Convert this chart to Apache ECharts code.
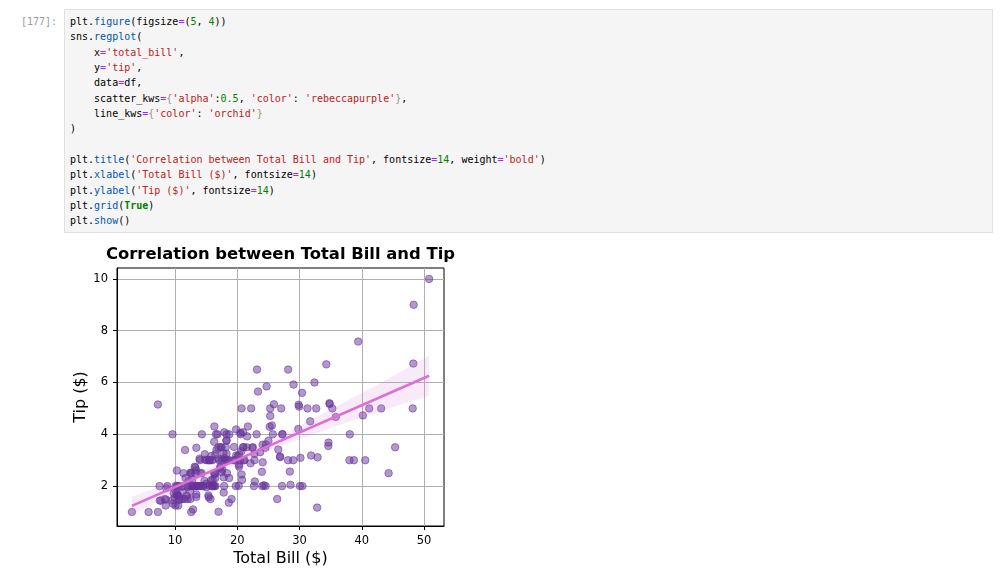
<!DOCTYPE html>
<html>
<head>
<meta charset="utf-8">
<script src="https://cdn.jsdelivr.net/npm/echarts@6/dist/echarts.min.js"></script>
<style>
  html, body { margin:0; padding:0; width:1000px; height:573px; background:#fff; overflow:hidden; }
  #prompt { position:absolute; left:20px; top:14px; width:37px; text-align:right; font:10px/15.33px 'DejaVu Sans Mono', monospace; color:#999; white-space:pre; }
  #cell { position:absolute; left:64px; top:9px; width:929px; height:224px; background:#f5f5f5; border:1px solid #e0e0e0; box-sizing:border-box; }
  #cell pre { position:absolute; left:5px; top:4px; margin:0; font:10px/15.33px 'DejaVu Sans Mono', monospace; color:#000; }
  .p { color:#0055aa; } .o { color:#aa22ff; } .n { color:#008000; } .s { color:#ba2121; } .k { color:#008000; font-weight:bold; } .b { color:#999977; }
  #chart { position:absolute; left:0; top:236px; width:520px; height:337px; }
</style>
</head>
<body>
<div id="prompt">[177]:</div>
<div id="cell"><pre>plt.<span class="p">figure</span>(figsize<span class="o">=</span>(<span class="n">5</span>, <span class="n">4</span>))
sns.<span class="p">regplot</span>(
    x<span class="o">=</span><span class="s">'total_bill'</span>,
    y<span class="o">=</span><span class="s">'tip'</span>,
    data<span class="o">=</span>df,
    scatter_kws<span class="o">=</span><span class="b">{</span><span class="s">'alpha'</span>:<span class="n">0.5</span>, <span class="s">'color'</span>: <span class="s">'rebeccapurple'</span><span class="b">}</span>,
    line_kws<span class="o">=</span><span class="b">{</span><span class="s">'color'</span>: <span class="s">'orchid'</span><span class="b">}</span>
)

plt.<span class="p">title</span>(<span class="s">'Correlation between Total Bill and Tip'</span>, fontsize<span class="o">=</span><span class="n">14</span>, weight<span class="o">=</span><span class="s">'bold'</span>)
plt.<span class="p">xlabel</span>(<span class="s">'Total Bill ($)'</span>, fontsize<span class="o">=</span><span class="n">14</span>)
plt.<span class="p">ylabel</span>(<span class="s">'Tip ($)'</span>, fontsize<span class="o">=</span><span class="n">14</span>)
plt.<span class="p">grid</span>(<span class="k">True</span>)
plt.<span class="p">show</span>()</pre></div>
<div id="chart"></div>
<script>
const totalBill = [16.99,10.34,21.01,23.68,24.59,25.29,8.77,26.88,15.04,14.78,10.27,35.26,15.42,18.43,14.83,21.58,10.33,16.29,16.97,20.65,17.92,20.29,15.77,39.42,19.82,17.81,13.37,12.69,21.70,19.65,9.55,18.35,15.06,20.69,17.78,24.06,16.31,16.93,18.69,31.27,16.04,17.46,13.94,9.68,30.40,18.29,22.23,32.40,28.55,18.04,12.54,10.29,34.81,9.94,25.56,19.49,38.01,26.41,11.24,48.27,20.29,13.81,11.02,18.29,17.59,20.08,16.45,3.07,20.23,15.01,12.02,17.07,26.86,25.28,14.73,10.51,17.92,27.20,22.76,17.29,19.44,16.66,10.07,32.68,15.98,34.83,13.03,18.28,24.71,21.16,28.97,22.49,5.75,16.32,22.75,40.17,27.28,12.03,21.01,12.46,11.35,15.38,44.30,22.42,20.92,15.36,20.49,25.21,18.24,14.31,14.00,7.25,38.07,23.95,25.71,17.31,29.93,10.65,12.43,24.08,11.69,13.42,14.26,15.95,12.48,29.80,8.52,14.52,11.38,22.82,19.08,20.27,11.17,12.26,18.26,8.51,10.33,14.15,16.00,13.16,17.47,34.30,41.19,27.05,16.43,8.35,18.64,11.87,9.78,7.51,14.07,13.13,17.26,24.55,19.77,29.85,48.17,25.00,13.39,16.49,21.50,12.66,16.21,13.81,17.51,24.52,20.76,31.71,10.59,10.63,50.81,15.81,7.25,31.85,16.82,32.90,17.89,14.48,9.60,34.63,34.65,23.33,45.35,23.17,40.55,20.69,20.90,30.46,18.15,23.10,15.69,19.81,28.44,15.48,16.58,7.56,10.34,43.11,13.00,13.51,18.71,12.74,13.00,16.40,20.53,16.47,26.59,38.73,24.27,12.76,30.06,25.89,48.33,13.27,28.17,12.90,28.15,11.59,7.74,30.14,12.16,13.42,8.58,15.98,13.42,16.27,10.09,20.45,13.28,22.12,24.01,15.69,11.61,10.77,15.53,10.07,12.60,32.83,35.83,29.03,27.18,22.67,17.82,18.78];
const tip = [1.01,1.66,3.50,3.31,3.61,4.71,2.00,3.12,1.96,3.23,1.71,5.00,1.57,3.00,3.02,3.92,1.67,3.71,3.50,3.35,4.08,2.75,2.23,7.58,3.18,2.34,2.00,2.00,4.30,3.00,1.45,2.50,3.00,2.45,3.27,3.60,2.00,3.07,2.31,5.00,2.24,2.54,3.06,1.32,5.60,3.00,5.00,6.00,2.05,3.00,2.50,2.60,5.20,1.56,4.34,3.51,3.00,1.50,1.76,6.73,3.21,2.00,1.98,3.76,2.64,3.15,2.47,1.00,2.01,2.09,1.97,3.00,3.14,5.00,2.20,1.25,3.08,4.00,3.00,2.71,3.00,3.40,1.83,5.00,2.03,5.17,2.00,4.00,5.85,3.00,3.00,3.50,1.00,4.30,3.25,4.73,4.00,1.50,3.00,1.50,2.50,3.00,2.50,3.48,4.08,1.64,4.06,4.29,3.76,4.00,3.00,1.00,4.00,2.55,4.00,3.50,5.07,1.50,1.80,2.92,2.31,1.68,2.50,2.00,2.52,4.20,1.48,2.00,2.00,2.18,1.50,2.83,1.50,2.00,3.25,1.25,2.00,2.00,2.00,2.75,3.50,6.70,5.00,5.00,2.30,1.50,1.36,1.63,1.73,2.00,2.50,2.00,2.74,2.00,2.00,5.14,5.00,3.75,2.61,2.00,3.50,2.50,2.00,2.00,3.00,3.48,2.24,4.50,1.61,2.00,10.00,3.16,5.15,3.18,4.00,3.11,2.00,2.00,4.00,3.55,3.68,5.65,3.50,6.50,3.00,5.00,3.50,2.00,3.50,4.00,1.50,4.19,2.56,2.02,4.00,1.44,2.00,5.00,2.00,2.00,4.00,2.01,2.00,2.50,4.00,3.23,3.41,3.00,2.03,2.23,2.00,5.16,9.00,2.50,6.50,1.10,3.00,1.50,1.44,3.09,2.20,3.48,1.92,3.00,1.58,2.50,2.00,3.00,2.72,2.88,2.00,3.00,3.39,1.47,3.00,1.25,1.00,1.17,4.67,5.92,2.00,2.00,1.75,3.00];

// regression line endpoints and confidence band
const fitX = [3.07, 50.81];
const fitY = [1.24, 6.26];
const bandX     = [3.07, 8, 13, 18, 23, 28, 33, 38, 43, 50.81];
const bandLower = [0.90, 1.49, 2.10, 2.67, 3.19, 3.64, 4.07, 4.48, 4.90, 5.49];
const bandUpper = [1.59, 2.03, 2.48, 2.95, 3.49, 4.08, 4.71, 5.34, 5.98, 7.03];

const xTicks = [10, 20, 30, 40, 50];
const yTicks = [2, 4, 6, 8, 10];

const n = Math.min(totalBill.length, tip.length);
const points = [];
for (let i = 0; i < n; i++) points.push([totalBill[i], tip[i]]);
const bandData = bandX.map((x, i) => [x, bandLower[i], bandUpper[i]]);

const FONT = 'DejaVu Sans';
const chart = echarts.init(document.getElementById('chart'), null, { renderer: 'canvas' });
chart.setOption({
  animation: false,
  backgroundColor: 'transparent',
  textStyle: { fontFamily: FONT },
  title: {
    text: 'Correlation between Total Bill and Tip',
    left: 280.5, top: 11, padding: 0, textAlign: 'center',
    textStyle: { fontFamily: FONT, fontSize: 16.4, fontWeight: 'bold', color: '#000' }
  },
  grid: { left: 117, top: 32, right: 76, bottom: 47, show: true, borderColor: '#000', borderWidth: 1, containLabel: false, outerBoundsMode: 'none' },
  xAxis: {
    type: 'value', min: 0.68, max: 53.2, minInterval: 10, maxInterval: 10,
    name: 'Total Bill ($)', nameLocation: 'middle', nameGap: 25, nameMoveOverlap: false,
    nameTextStyle: { fontFamily: FONT, fontSize: 16, color: '#000' },
    axisLine: { show: true, onZero: false, lineStyle: { color: '#000', width: 1 } },
    axisTick: { show: true, length: 4, inside: false, customValues: xTicks, lineStyle: { color: '#000', width: 1 } },
    axisLabel: { show: true, margin: 9, customValues: xTicks,
      fontFamily: FONT, fontSize: 11.5, color: '#000',
      formatter: v => (xTicks.indexOf(Math.round(v * 1000) / 1000) >= 0 ? String(v) : '') },
    splitLine: { show: true, lineStyle: { color: '#b0b0b0', width: 1 } }
  },
  yAxis: {
    type: 'value', min: 0.46, max: 10.42, minInterval: 2, maxInterval: 2,
    name: 'Tip ($)', nameLocation: 'middle', nameGap: 28, nameRotate: 90, nameMoveOverlap: false,
    nameTextStyle: { fontFamily: FONT, fontSize: 16, color: '#000' },
    axisLine: { show: true, onZero: false, lineStyle: { color: '#000', width: 1 } },
    axisTick: { show: true, length: 4, inside: false, customValues: yTicks, lineStyle: { color: '#000', width: 1 } },
    axisLabel: { show: true, margin: 9, customValues: yTicks,
      fontFamily: FONT, fontSize: 11.5, color: '#000',
      formatter: v => (yTicks.indexOf(Math.round(v * 1000) / 1000) >= 0 ? String(v) : '') },
    splitLine: { show: true, lineStyle: { color: '#b0b0b0', width: 1 } }
  },
  series: [
    {
      type: 'scatter', data: points, symbol: 'circle', symbolSize: 7.5,
      itemStyle: { color: 'rgba(102,51,153,0.5)', borderColor: 'rgba(102,51,153,0.55)', borderWidth: 1, opacity: 1 },
      emphasis: { disabled: true }, z: 2
    },
    {
      type: 'custom', data: bandData, encode: { x: 0, y: [1, 2] }, silent: true, clip: true, z: 3,
      renderItem: function (params, api) {
        if (params.dataIndex !== 0) return null;
        const pts = [];
        for (let i = 0; i < bandData.length; i++) pts.push(api.coord([bandData[i][0], bandData[i][1]]));
        for (let i = bandData.length - 1; i >= 0; i--) pts.push(api.coord([bandData[i][0], bandData[i][2]]));
        return { type: 'polygon', shape: { points: pts }, style: { fill: 'rgba(218,112,214,0.15)', stroke: 'none' } };
      }
    },
    {
      type: 'line', data: fitX.map((x, i) => [x, fitY[i]]),
      symbol: 'none', lineStyle: { color: '#da70d6', width: 2.5 }, silent: true, z: 4
    }
  ]
});
</script>
</body>
</html>
